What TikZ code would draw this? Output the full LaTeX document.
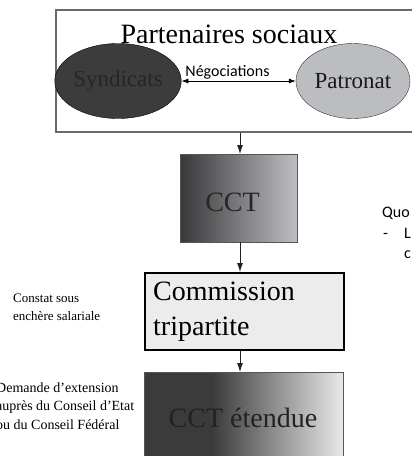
\documentclass[tikz,border=0pt]{standalone}
\usepackage{fontspec}
\setmainfont{Liberation Serif}
\newfontfamily\calib{Carlito}
\usetikzlibrary{shapes.geometric,arrows.meta}
\definecolor{boxgray}{HTML}{6A6A6A}
\definecolor{syndfill}{HTML}{3C3C3C}
\definecolor{syndtext}{HTML}{262626}
\definecolor{patfill}{HTML}{BCBDC1}
\definecolor{cctdark}{HTML}{38383A}
\definecolor{cctlight}{HTML}{BEBFC3}
\definecolor{cctborder}{HTML}{555555}
\definecolor{commfill}{HTML}{ECECEC}
\definecolor{ctdark}{HTML}{3B3B3B}
\definecolor{ctlight}{HTML}{E9E9E9}
\definecolor{darktext}{HTML}{222222}
\pgfdeclarehorizontalshading{cctext}{100bp}{color(0bp)=(ctdark); color(42bp)=(ctdark); color(75bp)=(ctlight); color(100bp)=(ctlight)}
\begin{document}
\begin{tikzpicture}[x=1pt,y=-1pt,
  arr/.style={line width=0.8pt, draw=darktext, -{Latex[length=9pt,width=6pt]}},
  dbl/.style={line width=0.7pt, draw=black, {Latex[length=7pt,width=5pt]}-{Latex[length=7pt,width=5pt]}},
  big/.style={font=\fontsize{28}{33}\selectfont, inner sep=0},
  mid/.style={font=\fontsize{23}{27}\selectfont},
  small/.style={font=\fontsize{13}{16}\selectfont, inner sep=0, anchor=base west},
  side/.style={font=\fontsize{14}{17}\selectfont, inner sep=0, anchor=base west},
  cal/.style={font=\calib\fontsize{16}{19}\selectfont, inner sep=0, anchor=base west},
  oval/.style={ellipse, minimum width=114pt, minimum height=75pt, inner sep=0, mid}]
\useasboundingbox (0,0) rectangle (412,456);
\clip (0,0) rectangle (412,456);
\coordinate (ax) at (240,0);
% top box
\node[draw=boxgray, line width=1.5pt, minimum width=380pt, minimum height=122pt, anchor=north west, inner sep=0] (part) at (55,9) {};
\node[big, anchor=base] (ttl) at (229,43) {Partenaires sociaux};
\node[oval, draw=black, fill=syndfill, text=syndtext] (syn) at (118,81) {Syndicats};
\node[oval, draw=black!80, fill=patfill, text=black!90] (pat) at (353,81) {Patronat};
\draw[dbl] (syn.east) -- (pat.west);
\node[cal, anchor=base] (neg) at (227.5,76) {Négociations};
% CCT
\node[draw=cctborder, left color=cctdark, right color=cctlight, minimum width=117pt, minimum height=88pt, anchor=north west, inner sep=0] (cct) at (180,154) {};
\node[big, anchor=base, text=black!85] (cctt) at (232.5,211) {CCT};
% Commission
\node[draw=black, line width=2pt, fill=commfill, minimum width=199pt, minimum height=77pt, anchor=north west, inner sep=0] (comm) at (144,272) {};
\node[big, anchor=base west] (comma) at (153,300) {Commission};
\node[big, anchor=base west] (commb) at (153,335) {tripartite};
% CCT etendue
\node[draw=cctborder, shading=cctext, minimum width=199pt, minimum height=110pt, anchor=north west, inner sep=0] (cctx) at (144,372) {};
\node[big, anchor=base, text=darktext] (cctxt) at (243,427) {CCT étendue};
% arrows
\draw[arr] (part.south -| ax) -- (cct.north -| ax);
\draw[arr] (cct.south -| ax) -- (comm.north -| ax);
\draw[arr] (comm.south -| ax) -- (cctx.north -| ax);
% left texts
\node[small] (cona) at (13,302) {Constat sous};
\node[small] (conb) at (13,320.5) {enchère salariale};
\node[side] (dema) at (-4,392) {Demande d’extension};
\node[side] (demb) at (-4,410.5) {auprès du Conseil d'Etat};
\node[side] (demc) at (-4,429) {ou du Conseil Fédéral};
% right texts
\node[cal] (quo) at (382,217) {Quo};
\node[cal] (dash) at (383,238) {-};
\node[cal] (ll) at (404,238) {L};
\node[cal] (lc) at (404,258) {c};
\end{tikzpicture}
\end{document}
